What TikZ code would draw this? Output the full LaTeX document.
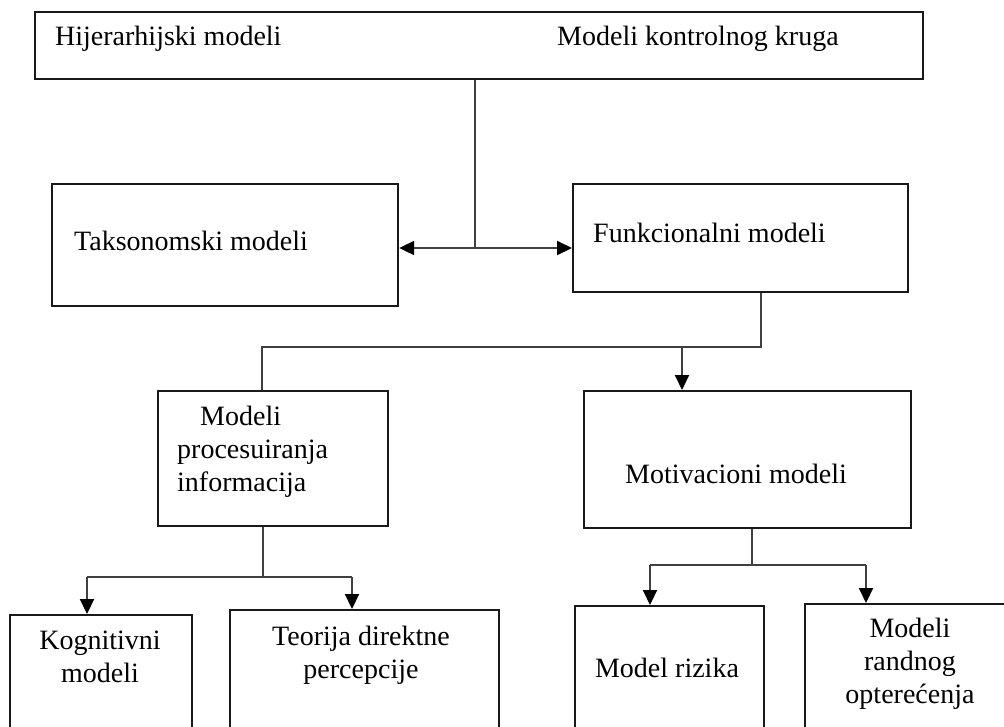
\documentclass[tikz,border=0pt]{standalone}
\usepackage{fontspec}
\setmainfont{Liberation Serif}
\usetikzlibrary{arrows.meta}

\begin{document}
\begin{tikzpicture}[x=1pt, y=-1pt,
		box/.style={draw=black!90, line width=2.2pt, rectangle, inner sep=0pt, anchor=north west},
		txt/.style={inner sep=0pt, font=\fontsize{28}{33}\selectfont},
		link/.style={draw=black!75, line width=2.1pt},
		arr/.style={link, -{Triangle[length=15pt, width=14pt, fill=black, color=black]}}]
			\useasboundingbox (0,0) rectangle (1004,726);
			\clip (0,0) rectangle (1004,726);

			% boxes
			\node[box, minimum width=888pt, minimum height=67pt] (hier) at (34,11) {};
			\node[box, minimum width=346pt, minimum height=122pt] (tax) at (51,183) {};
			\node[box, minimum width=335pt, minimum height=108pt] (fun) at (572,183) {};
			\node[box, minimum width=230pt, minimum height=135pt] (proc) at (157,390) {};
			\node[box, minimum width=327pt, minimum height=137pt] (mot) at (583,390) {};
			\node[box, minimum width=182pt, minimum height=150pt] (kog) at (9,614) {};
			\node[box, minimum width=269pt, minimum height=155pt] (teo) at (229,609) {};
			\node[box, minimum width=189pt, minimum height=160pt] (riz) at (574,605) {};
			\node[box, minimum width=212pt, minimum height=160pt] (ran) at (804,603) {};

			% texts
			\node[txt, anchor=base west] (hiert) at (55,45) {Hijerarhijski modeli};
			\node[txt, anchor=base west] (krugt) at (557,45) {Modeli kontrolnog kruga};
			\node[txt, anchor=base west] (taxt) at (74,250) {Taksonomski modeli};
			\node[txt, anchor=base west] (funt) at (593,242) {Funkcionalni modeli};
			\node[txt, anchor=north west, align=left] (proct) at (177,402) {\strut\hspace*{23pt}Modeli\\procesuiranja\\informacija};
			\node[txt, anchor=base west] (mott) at (625,483) {Motivacioni modeli};
			\node[txt, anchor=north, align=center] (kogt) at (100,626) {\strut Kognitivni\\modeli};
			\node[txt, anchor=north, align=center] (teot) at (361,622) {\strut Teorija direktne\\percepcije};
			\node[txt, anchor=base] (rizt) at (667,677) {Model rizika};
			\node[txt, anchor=north, align=center] (rant) at (910,614) {\strut Modeli\\randnog\\optere\'cenja};

			% junctions
			\coordinate (j1) at (475,248);
			\coordinate (j2) at (761,347);
			\coordinate (j3) at (262,347);
			\coordinate (j4) at (682,347);
			\coordinate (j5) at (263,577);
			\coordinate (j6) at (87,577);
			\coordinate (j7) at (352,577);
			\coordinate (j8) at (752,565);
			\coordinate (j9) at (650,565);
			\coordinate (j10) at (866,565);

			% connectors
			\draw[link] (j1 |- hier.south) -- (j1);
			\draw[arr] (j1) -- (j1 -| tax.east);
			\draw[arr] (j1) -- (j1 -| fun.west);
			\draw[link] (j2 |- fun.south) -- (j2) -- (j3) -- (j3 |- proc.north);
			\draw[arr] (j4) -- (j4 |- mot.north);
			\draw[link] (j5 |- proc.south) -- (j5);
			\draw[link] (j6) -- (j7);
			\draw[arr] (j6) -- (j6 |- kog.north);
			\draw[arr] (j7) -- (j7 |- teo.north);
			\draw[link] (j8 |- mot.south) -- (j8);
			\draw[link] (j9) -- (j10);
			\draw[arr] (j9) -- (j9 |- riz.north);
			\draw[arr] (j10) -- (j10 |- ran.north);
\end{tikzpicture}
\end{document}
